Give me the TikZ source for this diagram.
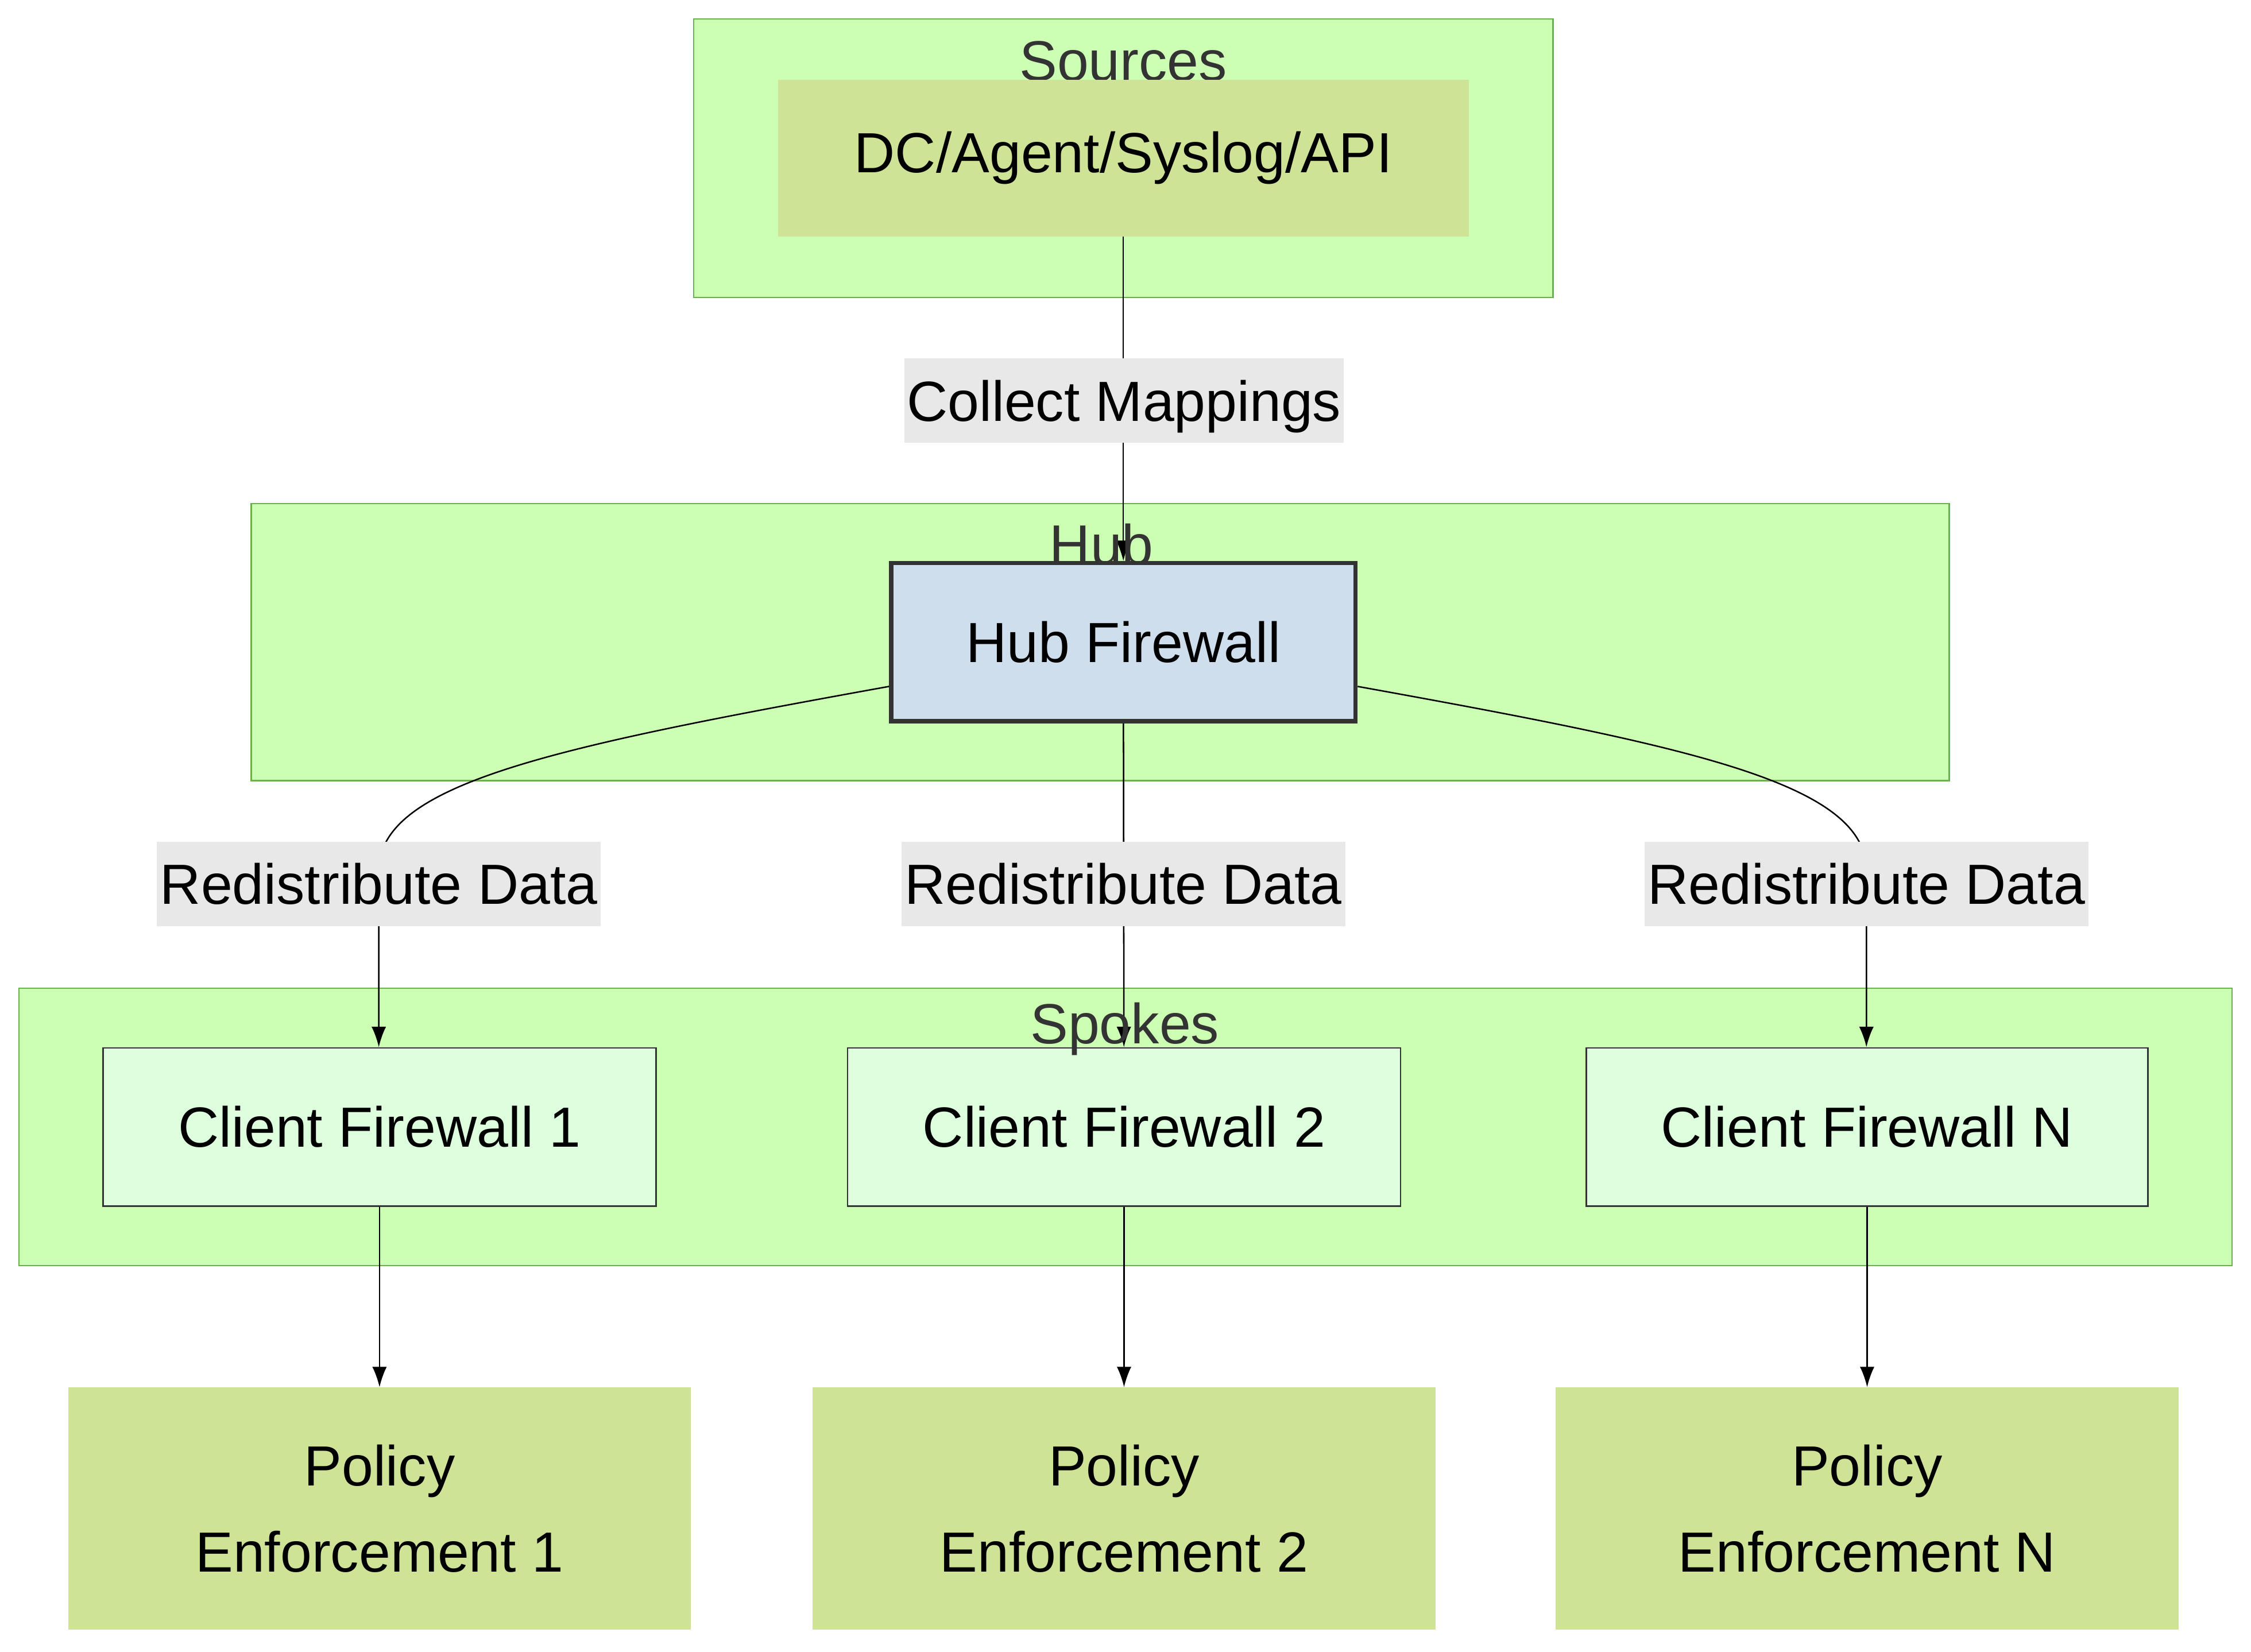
\documentclass[tikz,border=0pt]{standalone}
\usepackage{fontspec}
\setmainfont{Liberation Sans}
\usetikzlibrary{arrows.meta}
\definecolor{grp}{HTML}{CCFFB3}
\definecolor{grpb}{HTML}{6AB04C}
\definecolor{olive}{HTML}{CFE397}
\definecolor{hubc}{HTML}{CFDEED}
\definecolor{cli}{HTML}{DDFFDD}
\definecolor{lbl}{HTML}{E8E8E8}
\begin{document}
\begin{tikzpicture}[x=1pt,y=-1pt,font=\fontsize{39}{47}\selectfont,
 grpbox/.style={draw=grpb,fill=grp,line width=1pt},
 title/.style={text=black!80},
 edge/.style={line width=1pt,-{Latex[length=14pt,width=10pt]}},
 lab/.style={fill=lbl,inner sep=0pt,minimum height=58pt,text depth=0pt,anchor=center}]
\useasboundingbox (0,0) rectangle (1551,1138);
\draw[grpbox] (478,13) rectangle (1070,205);
\node[title] (ts) at (774,42) {Sources};
\draw[grpbox] (173,347) rectangle (1343,538);
\draw[grpbox] (13,681) rectangle (1538,872);
\node[fill=olive,minimum width=476pt,minimum height=108pt] (dc) at (774,109) {DC/Agent/Syslog/API};
\node[fill=hubc,draw=black!80,line width=3pt,minimum width=320pt,minimum height=109pt] (hub) at (774,442.5) {Hub Firewall};
\foreach \n/\x/\w/\t in {c1/261.5/381/Client Firewall 1,c2/774.5/381/Client Firewall 2,cn/1286.5/387/Client Firewall N}
  \node[fill=cli,draw=black!80,line width=1pt,minimum width=\w pt,minimum height=109pt] (\n) at (\x,776.5) {\t};
\foreach \n/\x/\t in {p1/261.5/1,p2/774.5/2,pn/1286.5/N}
  \node[fill=olive,minimum width=429pt,minimum height=167pt,align=center] (\n) at (\x,1039.5) {Policy\\[12pt]Enforcement \t};
\draw[edge] (dc) -- (hub);
\draw[edge] (hub) -- (c2);
\draw[edge] (hub.west |- 0,473) .. controls (380,515) and (261,540) .. (261,600) -- (c1.north -| 261,0);
\draw[edge] (hub.east |- 0,473) .. controls (1168,515) and (1286,540) .. (1286,600) -- (cn.north -| 1286,0);
\node[title] (th) at (759,375) {Hub};
\node[title] (tsp) at (775,709) {Spokes};
\node[lab,minimum width=303pt] (l0) at (774.5,276) {Collect Mappings};
\node[lab,minimum width=306pt] (l1) at (261,609) {Redistribute Data};
\node[lab,minimum width=306pt] (l2) at (774,609) {Redistribute Data};
\node[lab,minimum width=306pt] (l3) at (1286,609) {Redistribute Data};
\foreach \a/\b in {c1/p1,c2/p2,cn/pn} \draw[edge] (\a) -- (\b);
\end{tikzpicture}
\end{document}
